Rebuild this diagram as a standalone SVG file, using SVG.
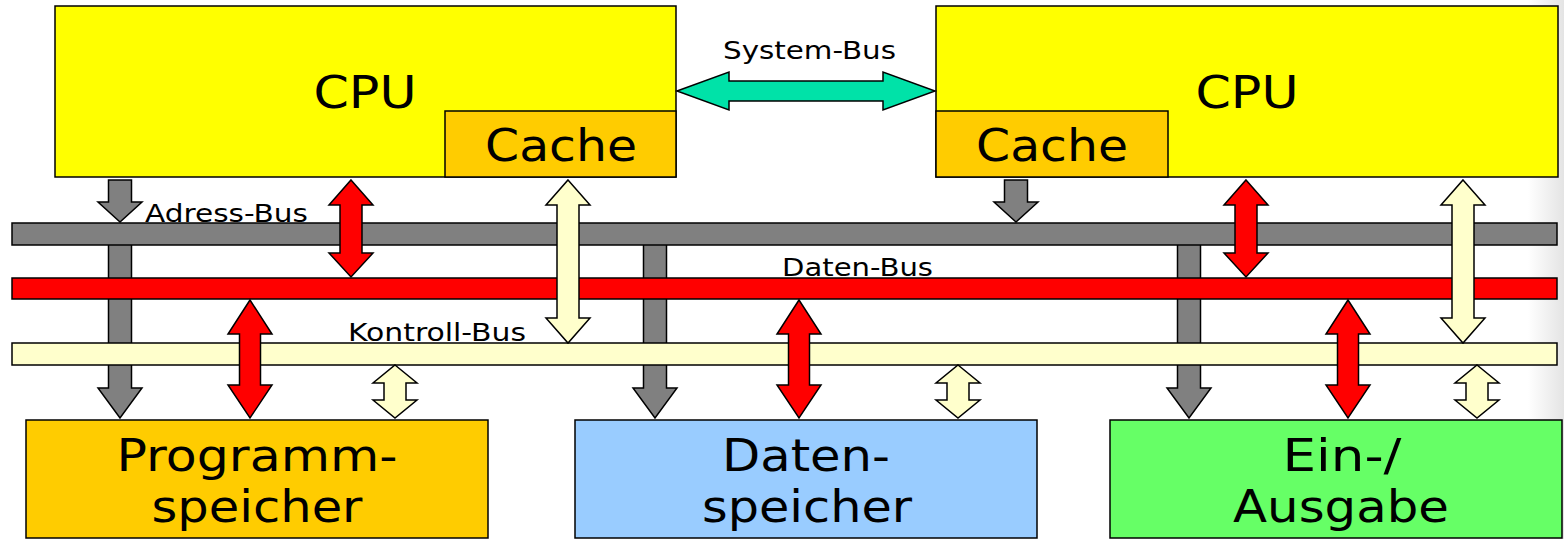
<svg xmlns="http://www.w3.org/2000/svg" width="1564" height="539" viewBox="0 0 1564 539">
<defs>
<linearGradient id="edge" x1="0" y1="0" x2="1" y2="0">
<stop offset="0" stop-color="#ffffff"/>
<stop offset="1" stop-color="#e4e4e4"/>
</linearGradient>
</defs>
<style>
.box{stroke:#000;stroke-width:1.5}
.cpu{fill:#ffff00}
.cache{fill:#ffcc00}
.big{font-family:"DejaVu Sans","Liberation Sans",sans-serif;font-size:45px;fill:#000;text-anchor:middle}
.lbl{font-family:"DejaVu Sans","Liberation Sans",sans-serif;font-size:24px;fill:#000}
.ar{stroke:#000;stroke-width:1.5;stroke-linejoin:miter}
.gray{fill:#808080}
.red{fill:#ff0000}
.cream{fill:#ffffcc}
.sys{fill:#00e2a8}
</style>
<rect x="0" y="0" width="1564" height="539" fill="#ffffff"/>
<rect x="1528" y="0" width="36" height="539" fill="url(#edge)"/>

<g id="connectors-back">
<polygon class="ar gray" points="108.5,240 131.5,240 131.5,388 142,388 120,418 98,388 108.5,388"/>
<polygon class="ar gray" points="643.5,240 666.5,240 666.5,388 677,388 655,418 633,388 643.5,388"/>
<polygon class="ar gray" points="1177.5,240 1200.5,240 1200.5,388 1211,388 1189,418 1167,388 1177.5,388"/>
</g>

<g id="address-bus">
<rect class="box" x="12" y="223" width="1545" height="22" fill="#808080"/>
<text class="lbl" x="145" y="222" textLength="163" lengthAdjust="spacingAndGlyphs">Adress-Bus</text>
</g>
<g id="data-bus">
<rect class="box" x="12" y="278" width="1545" height="21" fill="#ff0000"/>
<text class="lbl" x="782" y="276" textLength="151" lengthAdjust="spacingAndGlyphs">Daten-Bus</text>
</g>
<g id="control-bus">
<rect class="box" x="12" y="343" width="1545" height="22" fill="#ffffcc"/>
<text class="lbl" x="348" y="341" textLength="178" lengthAdjust="spacingAndGlyphs">Kontroll-Bus</text>
</g>

<g id="cpu1">
<rect class="box cpu" x="55" y="6" width="621" height="171"/>
<text class="big" x="365" y="108" textLength="103" lengthAdjust="spacingAndGlyphs">CPU</text>
</g>
<g id="cache1">
<rect class="box cache" x="445" y="111" width="231" height="66"/>
<text class="big" x="561" y="161" textLength="152" lengthAdjust="spacingAndGlyphs">Cache</text>
</g>
<g id="cpu2">
<rect class="box cpu" x="936" y="6" width="622" height="171"/>
<text class="big" x="1247" y="108" textLength="103" lengthAdjust="spacingAndGlyphs">CPU</text>
</g>
<g id="cache2">
<rect class="box cache" x="936" y="111" width="232" height="66"/>
<text class="big" x="1052" y="161" textLength="152" lengthAdjust="spacingAndGlyphs">Cache</text>
</g>

<g id="programmspeicher">
<rect class="box" x="26" y="420" width="462" height="118" fill="#ffcc00"/>
<text class="big" x="257" y="471" textLength="281" lengthAdjust="spacingAndGlyphs">Programm-</text>
<text class="big" x="257" y="522" textLength="211" lengthAdjust="spacingAndGlyphs">speicher</text>
</g>
<g id="datenspeicher">
<rect class="box" x="575" y="420" width="462" height="118" fill="#99ccff"/>
<text class="big" x="806" y="471" textLength="168" lengthAdjust="spacingAndGlyphs">Daten-</text>
<text class="big" x="807" y="522" textLength="210" lengthAdjust="spacingAndGlyphs">speicher</text>
</g>
<g id="ein-ausgabe">
<rect class="box" x="1110" y="420" width="452" height="118" fill="#66ff66"/>
<text class="big" x="1342" y="471" textLength="119" lengthAdjust="spacingAndGlyphs">Ein-/</text>
<text class="big" x="1341" y="522" textLength="216" lengthAdjust="spacingAndGlyphs">Ausgabe</text>
</g>

<g id="connectors">
<polygon class="ar sys" points="677,91 729,72 729,81 883,81 883,72 935,91 883,110 883,101 729,101 729,110"/>
<text class="lbl" x="723" y="59" textLength="173" lengthAdjust="spacingAndGlyphs">System-Bus</text>
<polygon class="ar gray" points="108.5,180 131.5,180 131.5,202 142,202 120,222 98,202 108.5,202"/>
<polygon class="ar gray" points="1004.5,180 1027.5,180 1027.5,202 1038,202 1016,222 994,202 1004.5,202"/>
<polygon class="ar red" points="351,180 373,205 362,205 362,253 373,253 351,277 329,253 340,253 340,205 329,205"/>
<polygon class="ar red" points="1246,180 1268,205 1257,205 1257,253 1268,253 1246,277 1224,253 1235,253 1235,205 1224,205"/>
<polygon class="ar cream" points="568,180 590,205 579,205 579,318 590,318 568,343 546,318 557,318 557,205 546,205"/>
<polygon class="ar cream" points="1463,180 1485,205 1474,205 1474,318 1485,318 1463,343 1441,318 1452,318 1452,205 1441,205"/>
<polygon class="ar red" points="250,300 272,334 260.5,334 260.5,385 272,385 250,418 228,385 239.5,385 239.5,334 228,334"/>
<polygon class="ar red" points="799,300 821,334 809.5,334 809.5,385 821,385 799,418 777,385 788.5,385 788.5,334 777,334"/>
<polygon class="ar red" points="1348,300 1370,334 1358.5,334 1358.5,385 1370,385 1348,418 1326,385 1337.5,385 1337.5,334 1326,334"/>
<polygon class="ar cream" points="395,365 417,383 406,383 406,400 417,400 395,418 373,400 384,400 384,383 373,383"/>
<polygon class="ar cream" points="958,365 980,383 969,383 969,400 980,400 958,418 936,400 947,400 947,383 936,383"/>
<polygon class="ar cream" points="1477,365 1499,383 1488,383 1488,400 1499,400 1477,418 1455,400 1466,400 1466,383 1455,383"/>
</g>
</svg>
